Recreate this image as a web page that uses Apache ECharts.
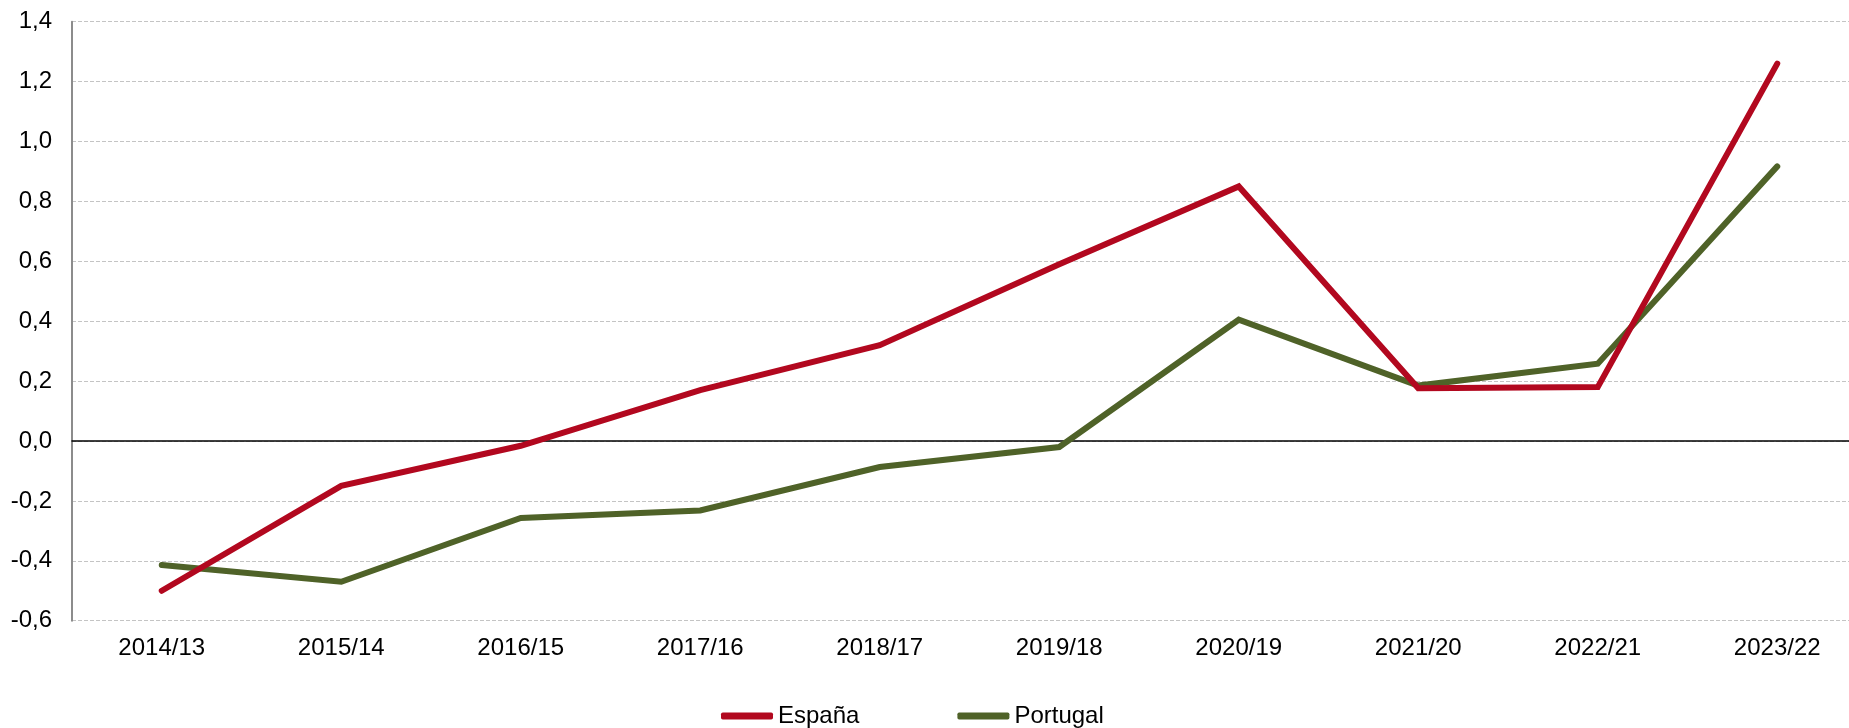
<!DOCTYPE html>
<html>
<head>
<meta charset="utf-8">
<style>
html,body{margin:0;padding:0;background:#fff;overflow:hidden;}
#chart{width:1867px;height:728px;}
</style>
<script src="https://cdn.jsdelivr.net/npm/echarts@6/dist/echarts.min.js"></script>
</head>
<body>
<div id="chart"></div>
<script>
const categories = ['2014/13','2015/14','2016/15','2017/16','2018/17','2019/18','2020/19','2021/20','2022/21','2023/22'];
const espana = [-0.50, -0.15, -0.016, 0.17, 0.32, 0.59, 0.85, 0.176, 0.18, 1.26];
const portugal = [-0.414, -0.47, -0.257, -0.232, -0.087, -0.02, 0.405, 0.185, 0.258, 0.917];
const seriesNames = ['España', 'Portugal'];
const colors = ['#B2081F', '#4F6228'];

const fmt = v => v.toFixed(1).replace('.', ',');
const font = 'Liberation Sans, Arial, sans-serif';

const chart = echarts.init(document.getElementById('chart'), null, {renderer: 'canvas'});
chart.setOption({
  animation: false,
  backgroundColor: '#fff',
  textStyle: {fontFamily: font},
  grid: {left: 72, right: 0, top: 21.7, bottom: 107.3, containLabel: false},
  legend: {
    left: 716, top: 699,
    itemWidth: 52, itemHeight: 7, itemGap: 98,
    icon: 'roundRect',
    textStyle: {fontFamily: font, fontSize: 24, color: '#000'},
    data: seriesNames
  },
  xAxis: {
    type: 'category',
    data: categories,
    boundaryGap: true,
    axisLine: {onZero: true, lineStyle: {color: '#000', width: 1.5}},
    axisTick: {show: false},
    axisLabel: {color: '#000', fontSize: 24, fontFamily: font, margin: 16},
    splitLine: {show: false}
  },
  yAxis: {
    type: 'value',
    min: -0.6, max: 1.4, interval: 0.2,
    axisLine: {show: true, onZero: false, lineStyle: {color: '#8c8c8c', width: 2}},
    axisTick: {show: false},
    axisLabel: {color: '#000', fontSize: 24, fontFamily: font, margin: 20, formatter: fmt},
    splitLine: {show: true, lineStyle: {color: '#c4c4c4', type: [4, 2], width: 1}}
  },
  series: [
    {
      name: seriesNames[0], type: 'line', data: espana,
      symbol: 'none', color: colors[0],
      lineStyle: {color: colors[0], width: 6, cap: 'round', join: 'miter'},
      z: 3
    },
    {
      name: seriesNames[1], type: 'line', data: portugal,
      symbol: 'none', color: colors[1],
      lineStyle: {color: colors[1], width: 6, cap: 'round', join: 'miter'},
      z: 2
    }
  ]
});
</script>
</body>
</html>
